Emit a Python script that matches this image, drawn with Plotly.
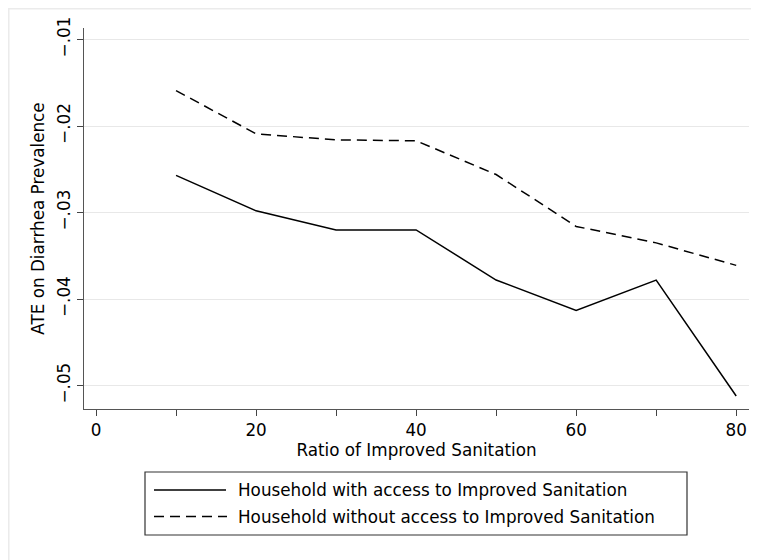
import plotly.graph_objects as go

ratio = [10, 20, 30, 40, 50, 60, 70, 80]
with_access = [-0.0257, -0.0298, -0.0320, -0.0320, -0.0378, -0.0413, -0.0378, -0.0512]
without_access = [-0.0159, -0.0209, -0.0216, -0.0217, -0.0256, -0.0316, -0.0335, -0.0361]

x_tickvals = [0, 10, 20, 30, 40, 50, 60, 70, 80]
x_ticktext = ["0", "", "20", "", "40", "", "60", "", "80"]
y_tickvals = [-0.05, -0.04, -0.03, -0.02, -0.01]
y_ticktext = ["\u2212.05", "\u2212.04", "\u2212.03", "\u2212.02", "\u2212.01"]

series_names = ["Household with access to Improved Sanitation",
                "Household without access to Improved Sanitation"]

FONT = "DejaVu Sans, Liberation Sans, Arial, sans-serif"
FS = 16.8
# page body has an 8px default margin; figure is sized so it fills the window
W, H = 751, 552
L, R, T, B = 76, 10, 20, 151
pw, ph = W - L - R, H - T - B
OFF = 8

def px_x(x):
    # window pixel -> paper fraction
    return (x - OFF - L) / pw

def px_y(y):
    return (H - B - (y - OFF)) / ph

fig = go.Figure()
fig.add_trace(go.Scatter(x=ratio, y=with_access, mode="lines", name=series_names[0],
                         line=dict(color="black", width=1.5), showlegend=False))
fig.add_trace(go.Scatter(x=ratio, y=without_access, mode="lines", name=series_names[1],
                         line=dict(color="black", width=1.5, dash="10px,6px"), showlegend=False))

shapes = []
# outer graph region border
shapes.append(dict(type="rect", xref="paper", yref="paper",
                   x0=px_x(8.8), x1=px_x(757.5), y0=px_y(575), y1=px_y(8.8),
                   line=dict(color="#ebebeb", width=1.5), layer="below"))
# legend box
shapes.append(dict(type="rect", xref="paper", yref="paper",
                   x0=px_x(145), x1=px_x(687), y0=px_y(535), y1=px_y(472),
                   line=dict(color="#333333", width=1.2), fillcolor="white"))
# legend samples
shapes.append(dict(type="line", xref="paper", yref="paper",
                   x0=px_x(154), x1=px_x(226), y0=px_y(490), y1=px_y(490),
                   line=dict(color="black", width=1.5)))
shapes.append(dict(type="line", xref="paper", yref="paper",
                   x0=px_x(154), x1=px_x(227), y0=px_y(516.5), y1=px_y(516.5),
                   line=dict(color="black", width=1.5, dash="10px,6px")))

annotations = [
    dict(text=series_names[0], xref="paper", yref="paper", x=px_x(236), y=px_y(490),
         xanchor="left", yanchor="middle", showarrow=False, font=dict(size=FS, color="black", family=FONT)),
    dict(text=series_names[1], xref="paper", yref="paper", x=px_x(236), y=px_y(516.5),
         xanchor="left", yanchor="middle", showarrow=False, font=dict(size=FS, color="black", family=FONT)),
]

fig.update_layout(
    width=W, height=H,
    margin=dict(l=L, r=R, t=T, b=B, pad=0),
    paper_bgcolor="white", plot_bgcolor="white",
    font=dict(family=FONT, size=FS, color="black"),
    shapes=shapes, annotations=annotations,
    xaxis=dict(range=[-1.5, 81.6], tickvals=x_tickvals, ticktext=x_ticktext,
               ticks="outside", ticklen=6, tickwidth=1.2, tickcolor="#444444",
               showline=True, linecolor="#555555", linewidth=1.2, showgrid=False,
               zeroline=False, tickfont=dict(size=FS),
               title=dict(text="Ratio of Improved Sanitation", font=dict(size=FS), standoff=2)),
    yaxis=dict(range=[-0.0527, -0.00867], tickvals=y_tickvals, ticktext=y_ticktext,
               ticks="outside", ticklen=6, tickwidth=1.2, tickcolor="#444444", tickangle=-90,
               showline=True, linecolor="#555555", linewidth=1.2,
               showgrid=True, gridcolor="#e8e8e8", gridwidth=1.2, zeroline=False,
               tickfont=dict(size=FS),
               title=dict(text="ATE on Diarrhea Prevalence", font=dict(size=FS), standoff=5)),
)

fig.write_html("out.html")
